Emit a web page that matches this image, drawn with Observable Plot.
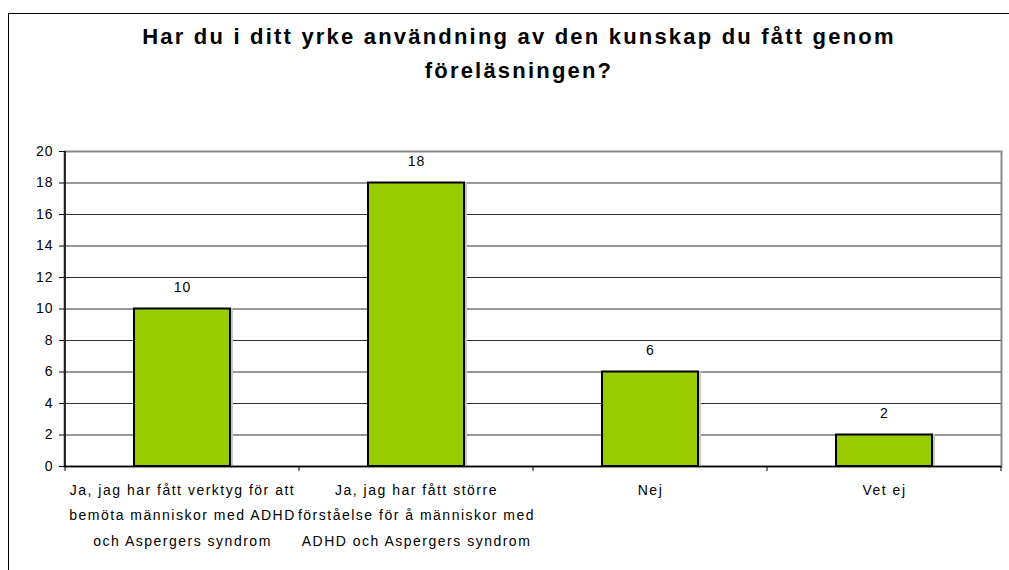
<!DOCTYPE html>
<html>
<head>
<meta charset="utf-8">
<script src="https://cdn.jsdelivr.net/npm/d3@7"></script>
<script src="https://cdn.jsdelivr.net/npm/@observablehq/plot@0.6"></script>
<style>
  body { margin: 0; background: #fff; font-family: "Liberation Sans", Arial, sans-serif; }
  #wrap { position: relative; width: 1009px; height: 570px; overflow: hidden; }
  #frame { position: absolute; left: 8px; top: 13px; width: 1100px; height: 700px; border-left: 1.5px solid #000; border-top: 1.5px solid #000; }
  #title { position: absolute; left: 69px; width: 900px; top: 20px; text-align: center; font-weight: bold; font-size: 22px; line-height: 34px; letter-spacing: 2.2px; color: #000; }
  #chart { position: absolute; left: 0; top: 0; }
  #chart svg text { letter-spacing: 1px; }
  #chart svg g.xlab text { letter-spacing: 1.5px; }
</style>
</head>
<body>
<div id="wrap">
  <div id="frame"></div>
  <div id="title">Har du i ditt yrke användning av den kunskap du fått genom<br>föreläsningen?</div>
  <div id="chart"></div>
</div>
<script>
const categories = [
  "Ja, jag har fått verktyg för att\nbemöta människor med ADHD\noch Aspergers syndrom",
  "Ja, jag har fått större\nförståelse för å människor med\nADHD och Aspergers syndrom",
  "Nej",
  "Vet ej"
];
const values = [10, 18, 6, 2];
const yTicks = [0, 2, 4, 6, 8, 10, 12, 14, 16, 18, 20];

const data = categories.map((c, i) => ({cat: c, value: values[i]}));

const chart = Plot.plot({
  width: 1009,
  height: 570,
  marginTop: 151,
  marginBottom: 104,
  marginLeft: 64,
  marginRight: 8,
  style: {fontFamily: "'Liberation Sans', Arial, sans-serif", color: "#000", background: "transparent"},
  x: {domain: categories, padding: 0, axis: null},
  y: {domain: [0, 20], axis: null},
  marks: [
    Plot.gridY(yTicks, {stroke: "#333", strokeOpacity: 1, strokeWidth: 1}),
    Plot.frame({stroke: "#888", strokeWidth: 2}),
    Plot.barY(data, {x: "cat", y: "value", fill: "#c8c8c8", insetLeft: 72, insetRight: 66}),
    Plot.barY(data, {x: "cat", y: "value", fill: "#99cc00", stroke: "#000", strokeWidth: 2, insetLeft: 69, insetRight: 69}),
    Plot.text(data, {x: "cat", y: "value", text: d => String(d.value), dy: -21, fontSize: 14}),
    Plot.axisY(yTicks, {label: null, tickSize: 5, tickPadding: 6, fontSize: 14, tickFormat: d => String(d)}),
    Plot.ruleY([0], {stroke: "#000", strokeWidth: 1.5}),
    Plot.text(categories, {x: d => d, text: d => d, frameAnchor: "bottom", lineAnchor: "top", dy: 10, lineHeight: 1.82, fontSize: 14, className: "xlab"})
  ]
});
document.getElementById("chart").appendChild(chart);

// left axis line and category boundary ticks, placed with Plot's own scales
const xs = chart.scale("x");
const ys = chart.scale("y");
const svg = d3.select(chart);
const bw = xs.bandwidth;
const bounds = categories.map(c => xs.apply(c)).concat([xs.apply(categories[categories.length - 1]) + bw]);
const y0 = ys.apply(0);
svg.append("line")
  .attr("x1", xs.apply(categories[0])).attr("x2", xs.apply(categories[0]))
  .attr("y1", ys.apply(20)).attr("y2", y0)
  .attr("stroke", "#000").attr("stroke-width", 1.5);
svg.selectAll("line.bt").data(bounds).join("line")
  .attr("class", "bt")
  .attr("x1", d => d).attr("x2", d => d)
  .attr("y1", y0).attr("y2", y0 + 5)
  .attr("stroke", "#000").attr("stroke-width", 1);
</script>
</body>
</html>
